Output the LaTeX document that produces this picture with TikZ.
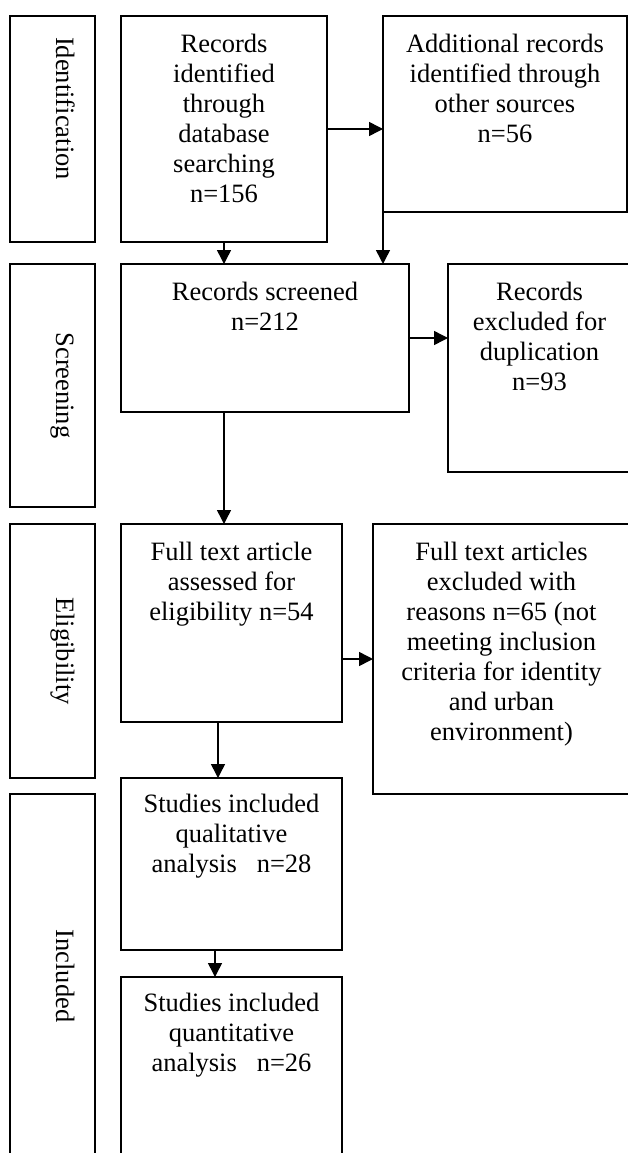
\documentclass[tikz,border=0pt]{standalone}
\usepackage{fontspec}
\setmainfont{Liberation Serif}
\usetikzlibrary{positioning,arrows.meta}

\begin{document}
\begin{tikzpicture}[x=1pt,y=-1pt,
        box/.style={draw,line width=1.5pt,anchor=north west,inner sep=0pt,outer sep=0pt},
        txt/.style={align=center,inner sep=0pt,font=\fontsize{26.5}{30}\selectfont},
        stage/.style={rotate=-90,anchor=base,inner sep=0pt,font=\fontsize{26.5}{30}\selectfont},
        arr/.style={line width=1.5pt,-{Triangle[length=14pt,width=14pt]}}]
        \clip[use as bounding box] (0,0) rectangle (628,1153);
        % stages
        \node[box,minimum width=85pt,minimum height=226pt] (ident) at (10,16) {};
        \node[box,minimum width=85pt,minimum height=243pt] (screen) at (10,264) {};
        \node[box,minimum width=85pt,minimum height=254pt] (elig) at (10,524) {};
        \node[box,minimum width=85pt,minimum height=376pt] (incl) at (10,794) {};
        \node[stage] (identTxt) at (56,108.5) {Identification};
        \node[stage] (screenTxt) at (56,385.5) {Screening};
        \node[stage] (eligTxt) at (56,651) {Eligibility};
        \node[stage] (inclTxt) at (56,976) {Included};
        % flow boxes
        \node[box,minimum width=206pt,minimum height=226pt] (recId) at (121,16) {};
        \node[box,minimum width=244pt,minimum height=196pt] (addl) at (383,16) {};
        \node[box,minimum width=288pt,minimum height=148pt] (screened) at (121,264) {};
        \node[box,minimum width=183pt,minimum height=208pt] (dupl) at (448,264) {};
        \node[box,minimum width=221pt,minimum height=198pt] (fulltext) at (121,524) {};
        \node[box,minimum width=257pt,minimum height=270pt] (ftexcl) at (373,524) {};
        \node[box,minimum width=221pt,minimum height=172pt] (qual) at (121,778) {};
        \node[box,minimum width=221pt,minimum height=193pt] (quant) at (121,977) {};
        \node[txt,below=18pt of recId.north] (recIdTxt) {Records\\identified\\through\\database\\searching\\n=156};
        \node[txt,below=18pt of addl.north] (addlTxt) {Additional records\\identified through\\other sources\\n=56};
        \node[txt,below=18pt of screened.north] (screenedTxt) {Records screened\\n=212};
        \node[txt,below=18pt of dupl.north] (duplTxt) {Records\\excluded for\\duplication\\n=93};
        \node[txt,below=18pt of fulltext.north] (fulltextTxt) {Full text article\\assessed for\\eligibility n=54};
        \node[txt,below=18pt of ftexcl.north] (ftexclTxt) {Full text articles\\excluded with\\reasons n=65 (not\\meeting inclusion\\criteria for identity\\and urban\\environment)};
        \node[txt,below=16pt of qual.north] (qualTxt) {Studies included\\qualitative\\analysis\ \ \ n=28};
        \node[txt,below=16pt of quant.north] (quantTxt) {Studies included\\quantitative\\analysis\ \ \ n=26};
        % arrows
        \draw[arr] (recId.south) -- (recId.south |- screened.north);
        \draw[arr] (recId.east) -- (recId.east -| addl.west);
        \draw[arr] (addl.south west) -- (addl.south west |- screened.north);
        \draw[arr] (screened.east) -- (screened.east -| dupl.west);
        \draw[arr] (recId.south |- screened.south) -- (recId.south |- fulltext.north);
        \draw[arr] (fulltext.east |- ftexcl.west) -- (ftexcl.west);
        \draw[arr] ([xshift=-13.5pt]fulltext.south) -- ([xshift=-13.5pt]fulltext.south |- qual.north);
        \draw[arr] ([xshift=-16.5pt]qual.south) -- ([xshift=-16.5pt]qual.south |- quant.north);
    \end{tikzpicture}
\end{document}
